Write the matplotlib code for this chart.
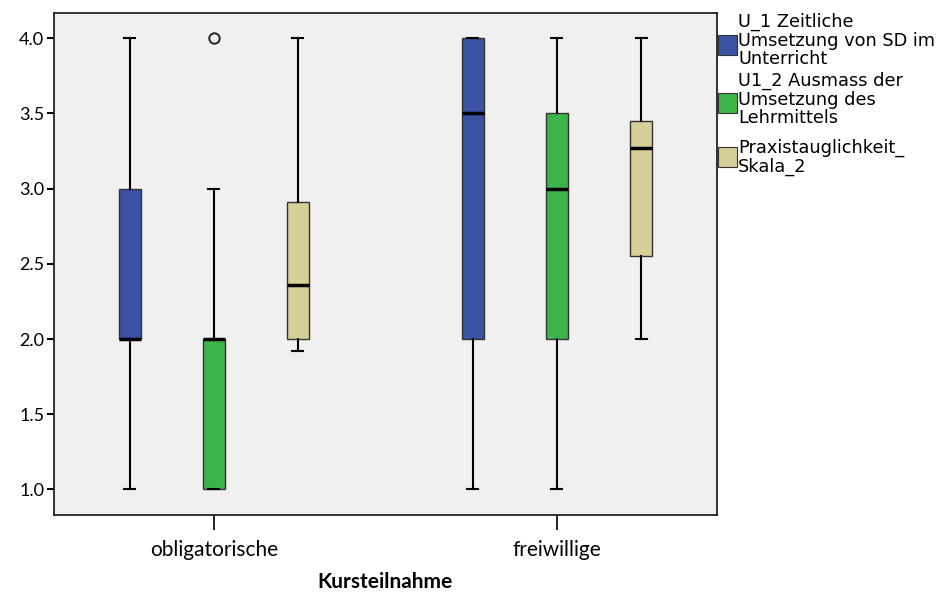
import matplotlib
matplotlib.use("Agg")
import matplotlib.pyplot as plt
from matplotlib.patches import Rectangle
from matplotlib import font_manager

# Data: five-number summaries per course type and variable
groups = ["obligatorische", "freiwillige"]
series = [
    "U_1 Zeitliche\nUmsetzung von SD im\nUnterricht",
    "U1_2 Ausmass der\nUmsetzung des\nLehrmittels",
    "Praxistauglichkeit_\nSkala_2",
]
colors = ["#3A53A4", "#3BB44A", "#D7CF98"]

# (whisker low, q1, median, q3, whisker high) for each group, per series
u1_stats = [(1.0, 2.0, 2.0, 3.0, 4.0), (1.0, 2.0, 3.5, 4.0, 4.0)]
u12_stats = [(1.0, 1.0, 2.0, 2.0, 3.0), (1.0, 2.0, 3.0, 3.5, 4.0)]
praxis_stats = [(1.92, 2.0, 2.36, 2.91, 4.0), (2.0, 2.55, 3.27, 3.45, 4.0)]
outliers = [[[], []], [[4.0], []], [[], []]]

yticks = [1.0, 1.5, 2.0, 2.5, 3.0, 3.5, 4.0]
xlabel = "Kursteilnahme"

all_stats = [u1_stats, u12_stats, praxis_stats]

def pick_font(names):
    avail = {f.name for f in font_manager.fontManager.ttflist}
    for n in names:
        if n in avail:
            return n
    return "DejaVu Sans"

tick_font = pick_font(["Lato", "Open Sans", "DejaVu Sans"])

fig = plt.figure(figsize=(9.47, 6.03), dpi=100)
fig.patch.set_facecolor("white")
ax = fig.add_axes([0.057, 0.146, 0.700, 0.832])
ax.set_facecolor("#F0F0F0")

offset = 0.245
width = 0.064
for si, stats in enumerate(all_stats):
    bxp_stats = []
    positions = []
    for gi, (lo, q1, med, q3, hi) in enumerate(stats):
        bxp_stats.append(dict(whislo=lo, q1=q1, med=med, q3=q3, whishi=hi,
                              fliers=outliers[si][gi]))
        positions.append(gi + (si - 1) * offset)
    ax.bxp(bxp_stats, positions=positions, widths=width, patch_artist=True,
           showfliers=True, manage_ticks=False,
           boxprops=dict(facecolor=colors[si], edgecolor="#333333", linewidth=1.0),
           medianprops=dict(color="black", linewidth=2.5, solid_capstyle="butt"),
           whiskerprops=dict(color="black", linewidth=1.5),
           capprops=dict(color="black", linewidth=1.5),
           capwidths=width * 0.5,
           flierprops=dict(marker="o", markerfacecolor="none",
                           markeredgecolor="#222222", markersize=7.5,
                           markeredgewidth=1.4))

ax.set_xlim(-0.466, 1.466)
ax.set_ylim(0.83, 4.166)
ax.set_yticks(yticks)
ax.set_yticklabels([f"{v:.1f}" for v in yticks], fontfamily=tick_font, fontsize=13)
ax.set_xticks([0, 1])
ax.set_xticklabels(groups, fontfamily=tick_font, fontsize=15)
ax.tick_params(axis="y", direction="out", length=5, width=1.5, pad=2)
ax.tick_params(axis="x", direction="out", length=11, width=1.2, pad=7)
for sp in ax.spines.values():
    sp.set_linewidth(1.3)
    sp.set_color("#222222")
ax.set_xlabel(xlabel, fontfamily=tick_font, fontsize=15, fontweight="bold", labelpad=9)

# Legend drawn alongside the plot
fh, fw = 603.0, 947.0
legend_y = [45, 103, 157]
text_top = [13, 72, 139]
for si in range(3):
    fig.patches.append(Rectangle((718 / fw, 1 - (legend_y[si] + 10) / fh), 19 / fw, 20 / fh,
                                 transform=fig.transFigure, facecolor=colors[si],
                                 edgecolor="#333333", linewidth=0.8))
    fig.text(738 / fw, 1 - text_top[si] / fh, series[si], fontsize=12.8,
             family="DejaVu Sans", va="top", ha="left", linespacing=1.02)

fig.savefig("out.png", dpi=100, facecolor="white")
